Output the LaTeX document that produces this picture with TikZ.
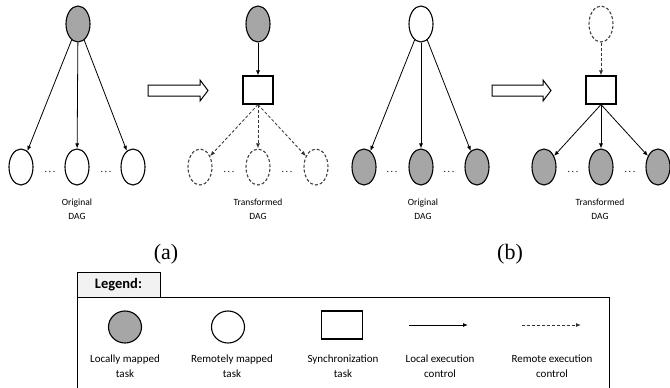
\documentclass[tikz,border=0pt]{standalone}
\usepackage{fontspec}
\setmainfont{Carlito}
\newfontfamily\capfont{Liberation Serif}
\usetikzlibrary{shapes.geometric,arrows.meta}

\tikzset{
  >={Latex[length=5pt,width=4pt]},
  task/.style={ellipse, draw, line width=1.1pt, minimum width=24pt, minimum height=36pt, inner sep=0pt},
  localtask/.style={task, fill=gray!70},
  remotetask/.style={task, fill=white},
  ghosttask/.style={task, fill=white, draw=black!75, dash pattern=on 3pt off 2pt},
  synctask/.style={rectangle, draw, line width=1.1pt, minimum width=30pt, minimum height=28pt, inner sep=0pt},
  localctl/.style={->, line width=0.8pt},
  remotectl/.style={->, line width=0.8pt, draw=black!80, dash pattern=on 3pt off 2pt},
  hollow/.style={draw, line width=1pt, fill=white},
  dagname/.style={align=center, font=\fontsize{9.5}{14}\selectfont},
  legtext/.style={align=center, font=\fontsize{11}{15}\selectfont},
  gap/.style={font=\fontsize{10}{12}\selectfont}
}

\begin{document}
\begin{tikzpicture}[x=1pt, y=-1pt]
      \useasboundingbox (0,0) rectangle (670,388);

      % (a) original
      \node (oa) [localtask] at (78,24) {};
      \node (oa1) [remotetask] at (21,167) {};
      \node (oa2) [remotetask] at (77,167) {};
      \node (oa3) [remotetask] at (133,167) {};
      \node (oad1) [gap] at (50,172) {.\,.\,.};
      \node (oad2) [gap] at (106,172) {.\,.\,.};
      \node (oalbl) [dagname] at (77,209) {Original\\DAG};
      \draw[localctl] (oa) -- (oa1);
      \draw[localctl] (oa) -- (oa2);
      \draw[localctl] (oa) -- (oa3);

      \draw[hollow] (148,85) -- (200,85) -- (200,80) -- (208,90.5) -- (200,101) -- (200,96) -- (148,96) -- cycle;

      % (a) transformed
      \node (ta) [localtask] at (258,24) {};
      \node (sa) [synctask] at (258,90) {};
      \node (ta1) [ghosttask] at (200,167) {};
      \node (ta2) [ghosttask] at (258,167) {};
      \node (ta3) [ghosttask] at (316,167) {};
      \node (tad1) [gap] at (229,172) {.\,.\,.};
      \node (tad2) [gap] at (287,172) {.\,.\,.};
      \node (talbl) [dagname] at (258,209) {Transformed\\DAG};
      \draw[localctl] (ta) -- (sa);
      \draw[remotectl] (sa.south) -- (ta1);
      \draw[remotectl] (sa.south) -- (ta2);
      \draw[remotectl] (sa.south) -- (ta3);

      % (b) original
      \node (ob) [remotetask] at (421,24) {};
      \node (ob1) [localtask] at (364,167) {};
      \node (ob2) [localtask] at (421,167) {};
      \node (ob3) [localtask] at (477,167) {};
      \node (obd1) [gap] at (392,172) {.\,.\,.};
      \node (obd2) [gap] at (449,172) {.\,.\,.};
      \node (oblbl) [dagname] at (423,209) {Original\\DAG};
      \draw[localctl] (ob) -- (ob1);
      \draw[localctl] (ob) -- (ob2);
      \draw[localctl] (ob) -- (ob3);

      \draw[hollow] (492,85) -- (543,85) -- (543,80) -- (551,90.5) -- (543,101) -- (543,96) -- (492,96) -- cycle;

      % (b) transformed
      \node (tb) [ghosttask] at (601,24) {};
      \node (sb) [synctask] at (601,90) {};
      \node (tb1) [localtask] at (544,167) {};
      \node (tb2) [localtask] at (601,167) {};
      \node (tb3) [localtask] at (658,167) {};
      \node (tbd1) [gap] at (573,172) {.\,.\,.};
      \node (tbd2) [gap] at (630,172) {.\,.\,.};
      \node (tblbl) [dagname] at (600,209) {Transformed\\DAG};
      \draw[remotectl] (tb) -- (sb);
      \draw[localctl] (sb.south) -- (tb1);
      \draw[localctl] (sb.south) -- (tb2);
      \draw[localctl] (sb.south) -- (tb3);

      \node (capa) [font=\capfont\fontsize{22}{24}\selectfont] at (166,254) {(a)};
      \node (capb) [font=\capfont\fontsize{22}{24}\selectfont] at (510,254) {(b)};

      % legend
      \draw[line width=1pt, fill=black!5] (77,297) rectangle (160,272);
      \node (legtitle) [font=\bfseries\fontsize{14.5}{16}\selectfont] at (118.5,285) {Legend:};
      \draw[line width=1pt] (77,392) -- (77,297) -- (609,297) -- (609,392);

      \node (lloc) [localtask, minimum width=33pt, minimum height=32pt] at (125,327) {};
      \node (lrem) [remotetask, minimum width=33pt, minimum height=32pt] at (228,327) {};
      \node (lsync) [synctask, minimum width=41pt] at (342,325) {};
      \coordinate (lla) at (409,325);
      \coordinate (llb) at (468,325);
      \coordinate (lra) at (522,325);
      \coordinate (lrb) at (581,325);
      \draw[localctl] (lla) -- (llb);
      \draw[remotectl] (lra) -- (lrb);

      \node (tloc) [legtext] at (125,366) {Locally mapped\\task};
      \node (trem) [legtext] at (232,366) {Remotely mapped\\task};
      \node (tsync) [legtext] at (343,366) {Synchronization\\task};
      \node (tlctl) [legtext] at (440,366) {Local execution\\control};
      \node (trctl) [legtext] at (552,366) {Remote execution\\control};
\end{tikzpicture}
\end{document}
